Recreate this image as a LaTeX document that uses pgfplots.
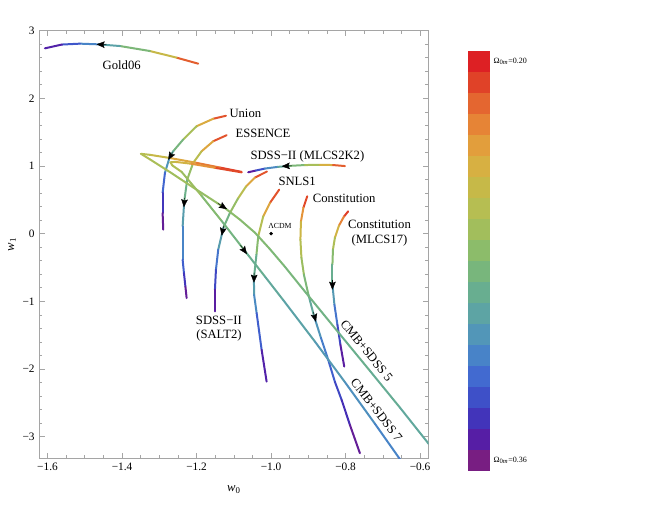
\documentclass[border=0pt]{standalone}
\usepackage{fontspec}
\setmainfont{Liberation Serif}
\usepackage{pgfplots}
\pgfplotsset{compat=1.18}
\usetikzlibrary{arrows.meta}

\definecolor{frame}{RGB}{165,165,165}
\definecolor{cbA}{RGB}{221,32,36}
\definecolor{cbB}{RGB}{224,66,40}
\definecolor{cbC}{RGB}{228,102,48}
\definecolor{cbD}{RGB}{230,132,54}
\definecolor{cbE}{RGB}{226,158,60}
\definecolor{cbF}{RGB}{215,176,66}
\definecolor{cbG}{RGB}{198,185,72}
\definecolor{cbH}{RGB}{182,190,82}
\definecolor{cbI}{RGB}{162,190,92}
\definecolor{cbJ}{RGB}{140,188,106}
\definecolor{cbK}{RGB}{120,182,124}
\definecolor{cbL}{RGB}{104,174,144}
\definecolor{cbM}{RGB}{93,164,164}
\definecolor{cbN}{RGB}{82,150,184}
\definecolor{cbO}{RGB}{72,131,200}
\definecolor{cbP}{RGB}{66,106,208}
\definecolor{cbQ}{RGB}{62,80,200}
\definecolor{cbR}{RGB}{66,52,186}
\definecolor{cbS}{RGB}{86,30,165}
\definecolor{cbT}{RGB}{120,30,130}

\pgfplotsset{
  colormap={omega}{rgb255=(221,32,36) rgb255=(224,66,40) rgb255=(228,102,48) rgb255=(230,132,54) rgb255=(226,158,60) rgb255=(215,176,66) rgb255=(198,185,72) rgb255=(182,190,82) rgb255=(162,190,92) rgb255=(140,188,106) rgb255=(120,182,124) rgb255=(104,174,144) rgb255=(93,164,164) rgb255=(82,150,184) rgb255=(72,131,200) rgb255=(66,106,208) rgb255=(62,80,200) rgb255=(66,52,186) rgb255=(86,30,165) rgb255=(120,30,130)},
  curve/.style={mesh, line width=1.5pt, line cap=round, line join=round, point meta=explicit},
  arr/.style={black, line width=0.3pt, -{Stealth[length=6pt,width=5pt,inset=1pt]}},
}
\tikzset{lab/.style={font=\fontsize{9.5}{11}\selectfont, inner sep=0pt}}

\begin{document}
\begin{tikzpicture}
\useasboundingbox (0,0) rectangle (498pt,391.5pt);

\begin{axis}[
  at={(29.5pt,47.8pt)}, anchor=south west, scale only axis,
  width=291.75pt, height=320.7pt,
  xmin=-1.622, xmax=-0.578, ymin=-3.32, ymax=3,
  xtick={-1.6,-1.4,-1.2,-1.0,-0.8,-0.6},
  xticklabels={−1.6,−1.4,−1.2,−1.0,−0.8,−0.6},
  ytick={-3,-2,-1,0,1,2,3},
  yticklabels={−3,−2,−1,0,1,2,3},
  minor x tick num=3, minor y tick num=4,
  tick align=inside, major tick length=4pt, minor tick length=2.2pt,
  tick style={line width=0.5pt, color=frame},
  axis line style={line width=0.6pt, color=frame},
  ticklabel style={font=\fontsize{8.5}{10}\selectfont, text=black},
  xlabel={\textit{w}\textsubscript{0}}, ylabel={\textit{w}\textsubscript{1}},
  label style={font=\fontsize{9.5}{11}\selectfont},
  xlabel style={at={(axis description cs:0.5,-0.074)}, anchor=center},
  ylabel style={at={(axis description cs:-0.07,0.5)}, anchor=center},
  colormap name=omega, point meta min=0.20, point meta max=0.36,
]

% Gold06
\addplot[curve] table[meta=m, row sep=\\] {
x y m\\
-1.1955 2.512 0.20\\
-1.2535 2.601 0.23\\
-1.3252 2.699 0.27\\
-1.4057 2.773 0.295\\
-1.4639 2.798 0.31\\
-1.5130 2.808 0.325\\
-1.5614 2.795 0.34\\
-1.6070 2.739 0.36\\
};
% Union
\addplot[curve] table[meta=m, row sep=\\] {
x y m\\
-1.1212 1.742 0.20\\
-1.1553 1.698 0.225\\
-1.1998 1.588 0.255\\
-1.2358 1.392 0.275\\
-1.2627 1.218 0.295\\
-1.2715 1.144 0.30\\
-1.2849 0.899 0.32\\
-1.2911 0.603 0.335\\
-1.2911 0.306 0.35\\
-1.2895 0.059 0.36\\
};
% ESSENCE
\addplot[curve] table[meta=m, row sep=\\] {
x y m\\
-1.1193 1.455 0.20\\
-1.1553 1.366 0.225\\
-1.1864 1.218 0.25\\
-1.2090 1.047 0.265\\
-1.2251 0.799 0.28\\
-1.2331 0.478 0.30\\
-1.2374 0.108 0.31\\
-1.2374 -0.385 0.325\\
-1.2339 -0.582 0.335\\
-1.2299 -0.785 0.35\\
-1.2267 -0.952 0.36\\
};
% SDSS-II SALT2
\addplot[curve] table[meta=m, row sep=\\] {
x y m\\
-1.0112 0.918 0.20\\
-1.0434 0.829 0.225\\
-1.0675 0.696 0.25\\
-1.0890 0.518 0.265\\
-1.1105 0.306 0.28\\
-1.1279 0.089 0.295\\
-1.1419 -0.237 0.315\\
-1.1480 -0.533 0.33\\
-1.1507 -0.829 0.345\\
-1.1507 -1.150 0.36\\
};
% SDSS-II MLCS2K2
\addplot[curve] table[meta=m, row sep=\\] {
x y m\\
-1.0614 0.907 0.36\\
-1.0407 0.933 0.345\\
-1.0165 0.962 0.325\\
-0.9816 0.987 0.305\\
-0.9494 1.002 0.29\\
-0.9092 1.014 0.275\\
-0.8689 1.017 0.255\\
-0.8340 1.014 0.23\\
-0.8018 0.999 0.20\\
};
% SNLS1
\addplot[curve] table[meta=m, row sep=\\] {
x y m\\
-0.9782 0.651 0.20\\
-1.0031 0.454 0.225\\
-1.0211 0.256 0.25\\
-1.0345 -0.040 0.27\\
-1.0393 -0.311 0.285\\
-1.0461 -0.656 0.30\\
-1.0456 -0.903 0.31\\
-1.0388 -1.174 0.32\\
-1.0254 -1.717 0.34\\
-1.0120 -2.187 0.36\\
};
% Constitution
\addplot[curve] table[meta=m, row sep=\\] {
x y m\\
-0.9030 0.552 0.20\\
-0.9132 0.385 0.22\\
-0.9199 0.178 0.24\\
-0.9213 -0.089 0.255\\
-0.9186 -0.355 0.265\\
-0.9119 -0.607 0.275\\
-0.8998 -0.903 0.29\\
-0.8850 -1.214 0.305\\
-0.8662 -1.540 0.315\\
-0.8467 -1.865 0.325\\
-0.8287 -2.191 0.335\\
-0.8107 -2.457 0.34\\
-0.7884 -2.828 0.35\\
-0.7616 -3.246 0.36\\
};
% Constitution MLCS17
\addplot[curve] table[meta=m, row sep=\\] {
x y m\\
-0.7930 0.330 0.20\\
-0.8045 0.252 0.215\\
-0.8179 0.118 0.235\\
-0.8287 -0.059 0.255\\
-0.8340 -0.237 0.27\\
-0.8354 -0.459 0.285\\
-0.8354 -0.755 0.30\\
-0.8300 -1.051 0.315\\
-0.8220 -1.347 0.33\\
-0.8139 -1.643 0.345\\
-0.8037 -1.964 0.36\\
};
% CMB+SDSS 5
\addplot[curve] table[meta=m, row sep=\\] {
x y m\\
-1.0791 0.913 0.20\\
-1.1373 0.977 0.215\\
-1.2044 1.051 0.23\\
-1.2715 1.118 0.245\\
-1.3252 1.165 0.255\\
-1.3493 1.180 0.26\\
-1.3252 1.098 0.262\\
-1.2715 0.910 0.266\\
-1.2044 0.666 0.27\\
-1.1239 0.378 0.275\\
-1.0836 0.207 0.277\\
-1.0434 0.015 0.279\\
-1.0031 -0.229 0.281\\
-0.9629 -0.489 0.283\\
-0.9226 -0.765 0.285\\
-0.8912 -0.977 0.286\\
-0.8152 -1.488 0.29\\
-0.7347 -2.028 0.293\\
-0.6542 -2.571 0.296\\
-0.5783 -3.098 0.30\\
-0.5335 -3.405 0.30\\
};
% CMB+SDSS 7
\addplot[curve] table[meta=m, row sep=\\] {
x y m\\
-1.0791 0.906 0.20\\
-1.1507 0.973 0.22\\
-1.2178 1.036 0.24\\
-1.2581 1.061 0.25\\
-1.2702 1.054 0.255\\
-1.2648 1.007 0.26\\
-1.2401 0.913 0.265\\
-1.1864 0.558 0.275\\
-1.1327 0.188 0.283\\
-1.0702 -0.256 0.29\\
-1.0165 -0.634 0.295\\
-0.9674 -0.982 0.30\\
-0.8823 -1.596 0.305\\
-0.8018 -2.195 0.31\\
-0.7213 -2.810 0.315\\
-0.6588 -3.298 0.32\\
-0.6274 -3.553 0.32\\
};

% arrows (direction of increasing Omega_m)
\addplot[arr] coordinates {(-1.4414,2.792) (-1.4682,2.798)};
\addplot[arr] coordinates {(-1.2645,1.200) (-1.2760,1.090)};
\addplot[arr] coordinates {(-1.2320,0.530) (-1.2340,0.390)};
\addplot[arr] coordinates {(-1.1271,0.118) (-1.1327,-0.030)};
\addplot[arr] coordinates {(-0.9441,1.004) (-0.9713,0.995)};
\addplot[arr] coordinates {(-1.0453,-0.577) (-1.0461,-0.725)};
\addplot[arr] coordinates {(-0.8864,-1.162) (-0.8797,-1.303)};
\addplot[arr] coordinates {(-0.8354,-0.681) (-0.8354,-0.829)};
\addplot[arr] coordinates {(-1.1427,0.447) (-1.1185,0.363)};
\addplot[arr] coordinates {(-1.0823,-0.170) (-1.0649,-0.303)};

% LCDM point
\addplot[only marks, mark=*, mark size=1.1pt, black] coordinates {(-1.0,0.0)};
\node[font=\fontsize{5.8}{7}\selectfont, inner sep=0pt] at (axis cs:-0.9763,0.118) {ΛCDM};

% labels
\node[lab] at (axis cs:-1.401,2.49) {Gold06};
\node[lab, anchor=west] at (axis cs:-1.1123,1.776) {Union};
\node[lab, anchor=west] at (axis cs:-1.0962,1.485) {ESSENCE};
\node[lab] at (axis cs:-0.9025,1.144) {SDSS−II (MLCS2K2)};
\node[lab, anchor=west] at (axis cs:-0.9808,0.774) {SNLS1};
\node[lab, anchor=west] at (axis cs:-0.8885,0.528) {Constitution};
\node[lab, align=center] at (axis cs:-0.709,0.003) {Constitution\\(MLCS17)};
\node[lab, align=center] at (axis cs:-1.140,-1.402) {SDSS−II\\(SALT2)};
\node[lab, rotate=-51] at (axis cs:-0.7436,-1.729) {CMB+SDSS 5};
\node[lab, rotate=-52] at (axis cs:-0.7168,-2.606) {CMB+SDSS 7};
\end{axis}

% colour bar
\begin{axis}[
  at={(351pt,38.25pt)}, anchor=south west, scale only axis,
  width=16.5pt, height=315pt,
  xmin=0, xmax=1, ymin=0, ymax=20, hide axis, clip=false,
]
\addplot[fill=cbT, draw=none] coordinates {(0,0) (1,0) (1,1) (0,1)} -- cycle;
\addplot[fill=cbS, draw=none] coordinates {(0,1) (1,1) (1,2) (0,2)} -- cycle;
\addplot[fill=cbR, draw=none] coordinates {(0,2) (1,2) (1,3) (0,3)} -- cycle;
\addplot[fill=cbQ, draw=none] coordinates {(0,3) (1,3) (1,4) (0,4)} -- cycle;
\addplot[fill=cbP, draw=none] coordinates {(0,4) (1,4) (1,5) (0,5)} -- cycle;
\addplot[fill=cbO, draw=none] coordinates {(0,5) (1,5) (1,6) (0,6)} -- cycle;
\addplot[fill=cbN, draw=none] coordinates {(0,6) (1,6) (1,7) (0,7)} -- cycle;
\addplot[fill=cbM, draw=none] coordinates {(0,7) (1,7) (1,8) (0,8)} -- cycle;
\addplot[fill=cbL, draw=none] coordinates {(0,8) (1,8) (1,9) (0,9)} -- cycle;
\addplot[fill=cbK, draw=none] coordinates {(0,9) (1,9) (1,10) (0,10)} -- cycle;
\addplot[fill=cbJ, draw=none] coordinates {(0,10) (1,10) (1,11) (0,11)} -- cycle;
\addplot[fill=cbI, draw=none] coordinates {(0,11) (1,11) (1,12) (0,12)} -- cycle;
\addplot[fill=cbH, draw=none] coordinates {(0,12) (1,12) (1,13) (0,13)} -- cycle;
\addplot[fill=cbG, draw=none] coordinates {(0,13) (1,13) (1,14) (0,14)} -- cycle;
\addplot[fill=cbF, draw=none] coordinates {(0,14) (1,14) (1,15) (0,15)} -- cycle;
\addplot[fill=cbE, draw=none] coordinates {(0,15) (1,15) (1,16) (0,16)} -- cycle;
\addplot[fill=cbD, draw=none] coordinates {(0,16) (1,16) (1,17) (0,17)} -- cycle;
\addplot[fill=cbC, draw=none] coordinates {(0,17) (1,17) (1,18) (0,18)} -- cycle;
\addplot[fill=cbB, draw=none] coordinates {(0,18) (1,18) (1,19) (0,19)} -- cycle;
\addplot[fill=cbA, draw=none] coordinates {(0,19) (1,19) (1,20) (0,20)} -- cycle;
\node[anchor=west, inner sep=0pt, font=\fontsize{6}{7}\selectfont] at (axis cs:1.15,19.5) {Ω\textsubscript{0\textit{m}}=0.20};
\node[anchor=west, inner sep=0pt, font=\fontsize{6}{7}\selectfont] at (axis cs:1.15,0.5) {Ω\textsubscript{0\textit{m}}=0.36};
\end{axis}
\end{tikzpicture}
\end{document}
